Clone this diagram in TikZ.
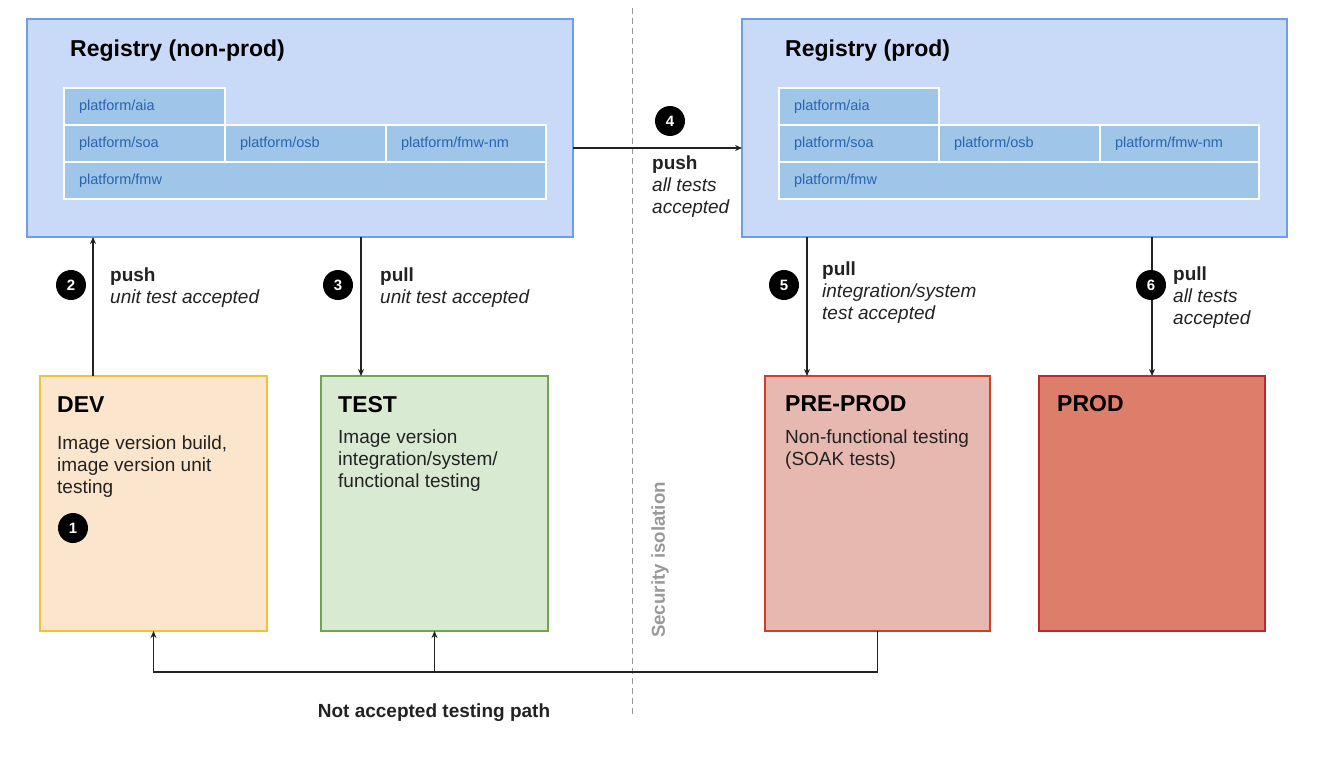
\documentclass[tikz,border=0pt]{standalone}
\usepackage{fontspec}
\setmainfont{Liberation Sans}
\usepackage{tikz}
\usetikzlibrary{arrows.meta,positioning}

\definecolor{regfill}{HTML}{C9DAF8}
\definecolor{regline}{HTML}{6D9EEB}
\definecolor{cellfill}{HTML}{9FC5E8}
\definecolor{celltext}{HTML}{2A64B0}
\definecolor{devfill}{HTML}{FCE5CD}
\definecolor{devline}{HTML}{F1C232}
\definecolor{testfill}{HTML}{D9EAD3}
\definecolor{testline}{HTML}{6AA84F}
\definecolor{ppfill}{HTML}{E6B8AF}
\definecolor{ppline}{HTML}{CC4125}
\definecolor{prodfill}{HTML}{DD7E6B}
\definecolor{prodline}{HTML}{C0272D}
\definecolor{inkgray}{HTML}{222222}
\definecolor{isogray}{HTML}{999999}

\tikzset{
  registry/.style={draw=regline,fill=regfill,line width=1.5pt,anchor=north west,
    minimum width=546pt,minimum height=218pt,inner sep=0pt,outer sep=0pt},
  cell/.style={draw=white,fill=cellfill,line width=1.5pt,anchor=north west,
    text width=#1,align=left,minimum height=37pt,inner xsep=15pt,inner ysep=0pt,
    outer sep=0pt,text=celltext,font=\fontsize{14.5}{17}\selectfont},
  stage/.style={line width=1.5pt,anchor=north west,minimum width=227pt,
    minimum height=255pt,inner sep=0pt,outer sep=0pt},
  regtitle/.style={anchor=base west,inner sep=0pt,font=\bfseries\fontsize{23}{27}\selectfont},
  boxtitle/.style={anchor=base west,inner sep=0pt,font=\bfseries\fontsize{23}{27}\selectfont},
  boxtext/.style={anchor=north west,inner sep=0pt,align=left,text=inkgray,
    font=\fontsize{19}{22}\selectfont},
  steplabel/.style={anchor=north west,inner sep=0pt,align=left,text=inkgray,
    font=\fontsize{19}{22}\selectfont},
  num/.style={circle,fill=black,text=white,minimum size=30pt,inner sep=0pt,
    font=\bfseries\fontsize{15}{15}\selectfont},
  flow/.style={-{Stealth[length=7pt,width=6pt]},line width=1.3pt,draw=inkgray},
  isolation/.style={draw=isogray,line width=1pt,dash pattern=on 6pt off 4pt}
}

\begin{document}
\begin{tikzpicture}[x=1pt,y=-1pt]
  \useasboundingbox (0,0) rectangle (1320,760);

  % registries
  \node[registry] (regnp) at (27,19) {};
  \node[regtitle] (regnp-title) at (70,57) {Registry (non-prod)};
  \node[cell=131pt] (np-aia) at (64,88) {platform/aia};
  \node[cell=131pt,below=0pt of np-aia] (np-soa) {platform/soa};
  \node[cell=131pt,right=0pt of np-soa] (np-osb) {platform/osb};
  \node[cell=130pt,right=0pt of np-osb] (np-fmwnm) {platform/fmw-nm};
  \node[cell=452pt,anchor=north west] (np-fmw) at (np-soa.south west) {platform/fmw};

  \node[registry,minimum width=545pt] (regp) at (742,19) {};
  \node[regtitle] (regp-title) at (785,57) {Registry (prod)};
  \node[cell=130pt] (p-aia) at (779,88) {platform/aia};
  \node[cell=130pt,below=0pt of p-aia] (p-soa) {platform/soa};
  \node[cell=131pt,right=0pt of p-soa] (p-osb) {platform/osb};
  \node[cell=129pt,right=0pt of p-osb] (p-fmwnm) {platform/fmw-nm};
  \node[cell=450pt,anchor=north west] (p-fmw) at (p-soa.south west) {platform/fmw};

  % stages
  \node[stage,fill=devfill,draw=devline] (dev) at (40,376) {};
  \node[boxtitle] (dev-title) at (57,412) {DEV};
  \node[boxtext] (dev-text) at (57,436) {Image version build,\\image version unit\\testing};
  \node[num] (n1) at (73,528) {1};

  \node[stage,fill=testfill,draw=testline] (test) at (321,376) {};
  \node[boxtitle] (test-title) at (338,412) {TEST};
  \node[boxtext] (test-text) at (338,430) {Image version\\integration/system/\\functional testing};

  \node[stage,fill=ppfill,draw=ppline,minimum width=225pt] (preprod) at (765,376) {};
  \node[boxtitle] (preprod-title) at (785,411) {PRE-PROD};
  \node[boxtext] (preprod-text) at (785,430) {Non-functional testing\\(SOAK tests)};

  \node[stage,fill=prodfill,draw=prodline,minimum width=226pt] (prod) at (1039,376) {};
  \node[boxtitle] (prod-title) at (1057,411) {PROD};

  % security isolation
  \coordinate (iso-top) at (632,8);
  \coordinate (iso-bot) at (632,717);
  \draw[isolation] (iso-top) -- (iso-bot);
  \node[rotate=90,text=isogray,font=\bfseries\fontsize{18.7}{20}\selectfont] (iso) at (660,560) {Security isolation};

  % promotion steps
  \coordinate (p2) at (93,376);
  \coordinate (p3) at (361,376);
  \coordinate (p4) at (573,148);
  \coordinate (p5) at (807,376);

  \draw[flow] (p2) -- (p2 |- regnp.south);
  \draw[flow] (p3 |- regnp.south) -- (p3);
  \draw[flow] (p4) -- (p4 -| regp.west);
  \draw[flow] (p5 |- regp.south) -- (p5);
  \draw[flow] (prod.north |- regp.south) -- (prod.north);

  \node[num] (n2) at (71,285) {2};
  \node[steplabel] (l2) at (110,268) {\textbf{push}\\\textit{unit test accepted}};
  \node[num] (n3) at (338,285) {3};
  \node[steplabel] (l3) at (380,268) {\textbf{pull}\\\textit{unit test accepted}};
  \node[num] (n4) at (670,121) {4};
  \node[steplabel] (l4) at (652,156) {\textbf{push}\\\textit{all tests}\\\textit{accepted}};
  \node[num] (n5) at (784,285) {5};
  \node[steplabel] (l5) at (822,262) {\textbf{pull}\\\textit{integration/system}\\\textit{test accepted}};
  \node[num] (n6) at (1151,285) {6};
  \node[steplabel] (l6) at (1173,267) {\textbf{pull}\\\textit{all tests}\\\textit{accepted}};

  % not accepted path
  \coordinate (fail) at (test.south |- 0,672);
  \draw[flow] (preprod.south) |- (fail) -| (dev.south);
  \draw[flow] (fail) -- (test.south);
  \node[anchor=base,inner sep=0pt,text=inkgray,font=\bfseries\fontsize{19}{22}\selectfont] (fail-label) at (434,717) {Not accepted testing path};
\end{tikzpicture}
\end{document}
